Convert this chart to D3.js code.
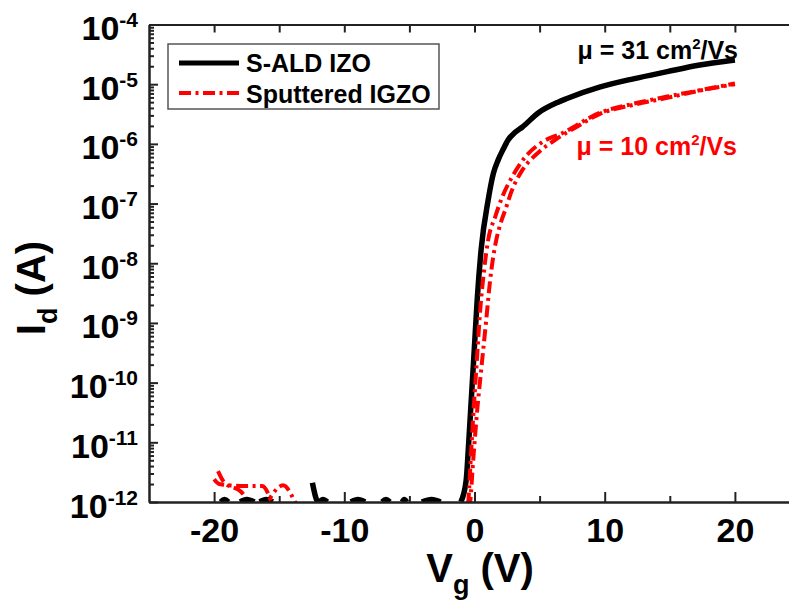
<!DOCTYPE html>
<html>
<head>
<meta charset="utf-8">
<script src="https://cdn.jsdelivr.net/npm/d3@7/dist/d3.min.js"></script>
<style>
  html, body { margin: 0; padding: 0; background: #fff; }
  svg { display: block; font-family: "Liberation Sans", Arial, Helvetica, sans-serif; font-weight: bold; }
</style>
</head>
<body>
<script>
// Transfer curves Id(Vg): gate voltage in V, drain current in A.
// null marks readings with no positive current (nothing to draw on a log axis).
const ALD_VG = [-19.5, -19.2, -18.9, -18.5, -18.0, -17.5, -16.9, -16.7, -16.5, -16.0, -15.5, -14.0,
  -12.45, -12.0, -11.65, -11.3, -10.4, -9.5, -8.95, -8.4, -7.75, -7.1, -6.8, -6.5, -6.0,
  -5.55, -5.4, -5.2, -4.6, -4.05, -3.3, -2.6, -1.8,
  -1.05, -0.64, -0.48, -0.25, -0.02, 0.21, 0.51, 1.05, 1.45, 1.82, 2.2, 2.59, 3.1, 3.66, 4.89, 6.42, 7.1,
  9.6, 12.2, 14.8, 17.3, 20];
const ALD_ID = [1.0e-12, 1.1e-12, 1.0e-12, null, 1.0e-12, 1.1e-12, 1.0e-12, null, 1.0e-12, 1.1e-12, 1.0e-12, null,
  2.1e-12, 1.0e-12, 1.1e-12, 1.0e-12, null, 1.0e-12, 1.1e-12, 1.0e-12, null, 1.0e-12, 1.1e-12, 1.0e-12, null,
  1.0e-12, 1.1e-12, 1.0e-12, null, 1.0e-12, 1.1e-12, 1.0e-12, null,
  1.0e-12, 2.3e-12, 7.4e-12, 5.1e-11, 3.5e-10, 2.5e-9, 1.7e-8, 1.15e-7, 3.2e-7, 5.4e-7, 8.1e-7, 1.17e-6, 1.55e-6, 1.9e-6, 3.3e-6, 5.0e-6, 5.75e-6,
  8.9e-6, 1.23e-5, 1.62e-5, 2.09e-5, 2.54e-5];

// Sputtered IGZO, two sweeps
const IGZO_VG_A = [-20.0, -19.6, -18.0, -16.3, -15.6, -15.3, -10, -5, -0.7, -0.48, -0.25, -0.02, 0.13,
  0.44, 0.74, 1.05, 1.59, 2.13, 2.89, 3.89, 5.2, 6.73, 9.6, 12.2, 14.8, 17.3, 20];
const IGZO_ID_A = [2.4e-12, 2.0e-12, 1.86e-12, 1.86e-12, 1.0e-12, 6.3e-13, 5.0e-13, 5.0e-13, 5.0e-13, 1.0e-12, 7.4e-12, 5.1e-11, 1.6e-10,
  1.66e-9, 7.8e-9, 2.45e-8, 6.0e-8, 1.29e-7, 2.8e-7, 6.0e-7, 1.07e-6, 1.51e-6, 3.3e-6, 4.7e-6, 6.2e-6, 7.9e-6, 1.03e-5];

const IGZO_VG_B = [-19.7, -19.2, -17.95, -17.1, -16.4, -15.9, -14.7, -13.7, -13.3, -5, -0.6, -0.33, -0.1,
  0.21, 0.51, 0.9, 1.2, 1.67, 1.97, 2.36, 2.89, 3.66, 4.89, 6.2, 7.73, 9.6, 12.2, 14.8, 17.3, 20];
const IGZO_ID_B = [3.3e-12, 2.1e-12, 1.5e-12, 8.9e-13, 6.3e-13, 1.0e-12, 1.9e-12, 9.3e-13, 6.3e-13, 5.0e-13, 5.0e-13, 1.0e-12, 5.0e-12,
  3.5e-11, 1.6e-10, 1.12e-9, 5.2e-9, 2.45e-8, 4.4e-8, 7.8e-8, 1.7e-7, 3.6e-7, 7.1e-7, 1.17e-6, 1.86e-6, 3.16e-6, 4.5e-6, 5.9e-6, 7.8e-6, 1.0e-5];

// Axis ticks
const X_MAJOR = [-20, -10, 0, 10, 20];
const X_MINOR = [-15, -5, 5, 15];
const X_TOP = [-20, -15, -10, -5, 0, 5, 10, 15, 20];
const Y_EXP = [-12, -11, -10, -9, -8, -7, -6, -5, -4];

const SERIES_NAMES = ["S-ALD IZO", "Sputtered IGZO"];
const MOBILITY = ["31", "10"];

const W = 789, H = 603;
const L = 149, R = 800, T = 24.5, B = 502;

const svg = d3.select("body").append("svg").attr("width", W).attr("height", H);

const x = d3.scaleLinear().domain([-25, 25]).range([L, R]);
const y = d3.scaleLog().domain([1e-12, 1e-4]).range([B, T]);

svg.append("defs").append("clipPath").attr("id", "plot-clip")
  .append("rect").attr("x", L).attr("y", T).attr("width", R - L).attr("height", B - T);

// Curves
const line = d3.line()
  .defined(d => d[1] != null)
  .x(d => x(d[0])).y(d => y(d[1]))
  .curve(d3.curveMonotoneX);
const plot = svg.append("g").attr("clip-path", "url(#plot-clip)");
const RED_DASH = "12,4.5,3,4.5";

plot.append("path").datum(d3.zip(IGZO_VG_B, IGZO_ID_B))
  .attr("d", line).attr("fill", "none").attr("stroke", "#ff0000")
  .attr("stroke-width", 4).attr("stroke-dasharray", RED_DASH);
plot.append("path").datum(d3.zip(ALD_VG, ALD_ID))
  .attr("d", line).attr("fill", "none").attr("stroke", "#000")
  .attr("stroke-width", 5.5).attr("stroke-linejoin", "round");
plot.append("path").datum(d3.zip(IGZO_VG_A, IGZO_ID_A))
  .attr("d", line).attr("fill", "none").attr("stroke", "#ff0000")
  .attr("stroke-width", 4).attr("stroke-dasharray", RED_DASH);

// Axes
function styleAxis(g) {
  g.selectAll("path.domain").attr("stroke", "#222").attr("stroke-width", 2);
  g.selectAll(".tick line").attr("stroke", "#222").attr("stroke-width", 2);
}

const yMinor = [];
Y_EXP.slice(0, -1).forEach(e => { for (let m = 2; m <= 9; m++) yMinor.push(m * Math.pow(10, e)); });

// bottom
svg.append("g").attr("transform", `translate(0,${B})`)
  .call(d3.axisBottom(x).tickValues(X_MINOR).tickSizeInner(-6).tickSizeOuter(0).tickFormat(""))
  .call(styleAxis);
const xb = svg.append("g").attr("transform", `translate(0,${B})`)
  .call(d3.axisBottom(x).tickValues(X_MAJOR).tickSizeInner(-10).tickSizeOuter(0)
    .tickFormat(d => String(d)))
  .call(styleAxis);
xb.selectAll(".tick text").attr("y", 40).attr("dy", null)
  .attr("font-size", 34).attr("font-weight", "bold")
  .attr("font-family", "Liberation Sans, Arial, sans-serif").attr("fill", "#000");

// top
svg.append("g").attr("transform", `translate(0,${T})`)
  .call(d3.axisTop(x).tickValues(X_TOP).tickSizeInner(-8).tickSizeOuter(0).tickFormat(""))
  .call(styleAxis);

// left
svg.append("g").attr("transform", `translate(${L},0)`)
  .call(d3.axisLeft(y).tickValues(yMinor).tickSizeInner(-5).tickSizeOuter(0).tickFormat(""))
  .call(styleAxis);
const yl = svg.append("g").attr("transform", `translate(${L},0)`)
  .call(d3.axisLeft(y).tickValues(Y_EXP.map(e => Math.pow(10, e))).tickSizeInner(-9).tickSizeOuter(0).tickFormat(""))
  .call(styleAxis);
yl.selectAll(".tick").each(function (d, i) {
  const t = d3.select(this).append("text")
    .attr("x", -11).attr("y", 15).attr("text-anchor", "end")
    .attr("fill", "#000").attr("font-size", 34).attr("font-weight", "bold")
    .attr("font-family", "Liberation Sans, Arial, sans-serif");
  t.append("tspan").text("10");
  t.append("tspan").attr("font-size", 21).attr("dy", -13).text(String(Y_EXP[i]));
});

// right
svg.append("g").attr("transform", `translate(${R},0)`)
  .call(d3.axisRight(y).tickValues([]).tickSizeOuter(0))
  .call(styleAxis);

// Axis titles
const xt = svg.append("text").attr("x", 480).attr("y", 582).attr("text-anchor", "middle")
  .attr("font-size", 40).attr("fill", "#000");
xt.append("tspan").text("V");
xt.append("tspan").attr("font-size", 27).attr("dy", 12).text("g");
xt.append("tspan").attr("dy", -12).text(" (V)");

const ytt = svg.append("text").attr("transform", "translate(45,288) rotate(-90)")
  .attr("text-anchor", "middle").attr("font-size", 40).attr("fill", "#000");
ytt.append("tspan").text("I");
ytt.append("tspan").attr("font-size", 27).attr("dy", 12).text("d");
ytt.append("tspan").attr("dy", -12).text(" (A)");

// Legend
const leg = svg.append("g");
leg.append("rect").attr("x", 168).attr("y", 44).attr("width", 271).attr("height", 65)
  .attr("fill", "#fff").attr("stroke", "#555").attr("stroke-width", 1.5);
leg.append("line").attr("x1", 179).attr("x2", 239).attr("y1", 63).attr("y2", 63)
  .attr("stroke", "#000").attr("stroke-width", 5);
leg.append("line").attr("x1", 179).attr("x2", 239).attr("y1", 93).attr("y2", 93)
  .attr("stroke", "#ff0000").attr("stroke-width", 4).attr("stroke-dasharray", RED_DASH);
leg.append("text").attr("x", 246).attr("y", 72).attr("font-size", 25).attr("fill", "#000").text(SERIES_NAMES[0]);
leg.append("text").attr("x", 246).attr("y", 103).attr("font-size", 25).attr("fill", "#000").text(SERIES_NAMES[1]);

// Mobility labels
function mobility(xe, yb, val, color) {
  const t = svg.append("text").attr("x", xe).attr("y", yb).attr("text-anchor", "end")
    .attr("font-size", 25).attr("fill", color);
  t.append("tspan").text(`\u03bc = ${val} cm`);
  t.append("tspan").attr("font-size", 15).attr("dy", -10).text("2");
  t.append("tspan").attr("dy", 10).text("/Vs");
}
mobility(738, 59, MOBILITY[0], "#000");
mobility(737, 155, MOBILITY[1], "#ff0000");
</script>
</body>
</html>
